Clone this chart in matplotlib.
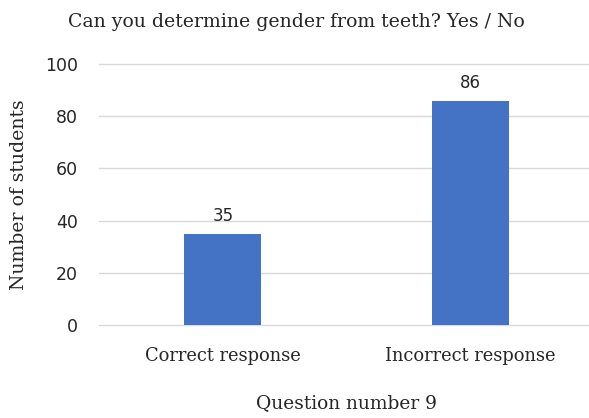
import matplotlib
matplotlib.use("Agg")
import matplotlib.pyplot as plt

categories = ["Correct response", "Incorrect response"]
values = [35, 86]
yticks = [0, 20, 40, 60, 80, 100]

fig = plt.figure(figsize=(5.89, 4.18), dpi=100)
ax = fig.add_axes([99/589, 93/418, (594-99)/589, 261/418])

serif = ["DejaVu Serif"]
sans = ["DejaVu Sans"]
tc = "#262626"

x = list(range(len(categories)))
ax.bar(x, values, width=77/247.5, color="#4472C4", zorder=3)
for xi, v in zip(x, values):
    ax.annotate(str(v), (xi, v), xytext=(0, 6), textcoords="offset points",
                ha="center", va="bottom", fontsize=12, family=sans, color=tc)

ax.set_xlim(-0.5, 1.5)
ax.set_ylim(0, 100)
ax.set_yticks(yticks)
ax.set_yticklabels([str(t) for t in yticks], family=sans, fontsize=12.5, color=tc)
ax.set_xticks(x)
ax.set_xticklabels(categories, family=serif, fontsize=12.9, color=tc)
ax.tick_params(axis="both", length=0)
ax.tick_params(axis="y", pad=15)
ax.tick_params(axis="x", pad=16)
ax.grid(axis="y", color="#d9d9d9", linewidth=1.0, zorder=0)
for gl in ax.get_ygridlines():
    gl.set_clip_on(False)
for s in ax.spines.values():
    s.set_visible(False)

ax.set_ylabel("Number of students", family=serif, fontsize=13.6, color=tc, labelpad=12)
ax.set_xlabel("Question number 9", family=serif, fontsize=13.4, color=tc, labelpad=21)
fig.text(296/589, 1 - 22/418, "Can you determine gender from teeth? Yes / No",
         ha="center", va="center", family=serif, fontsize=13.6, color=tc)

fig.savefig("out.png", dpi=100)
